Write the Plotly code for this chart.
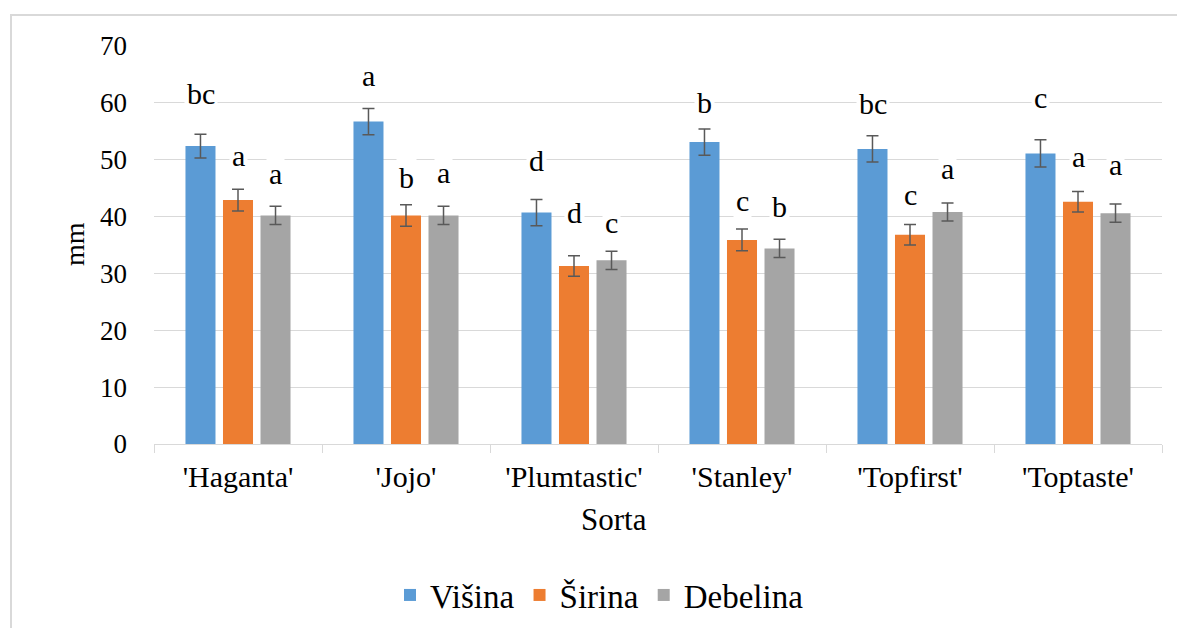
import plotly.graph_objects as go

categories = ["'Haganta'", "'Jojo'", "'Plumtastic'", "'Stanley'", "'Topfirst'", "'Toptaste'"]
series_names = ["Višina", "Širina", "Debelina"]
colors = ["#5b9bd5", "#ed7d31", "#a5a5a5"]

visina = [52.4, 56.7, 40.7, 53.1, 51.9, 51.1]
sirina = [42.9, 40.2, 31.3, 35.9, 36.8, 42.6]
debelina = [40.2, 40.2, 32.3, 34.4, 40.8, 40.6]

visina_err = [2.1, 2.3, 2.3, 2.3, 2.3, 2.4]
sirina_err = [1.9, 1.9, 1.8, 1.9, 1.8, 1.8]
debelina_err = [1.6, 1.6, 1.6, 1.6, 1.6, 1.6]

visina_letters = ["bc", "a", "d", "b", "bc", "c"]
sirina_letters = ["a", "b", "d", "c", "c", "a"]
debelina_letters = ["a", "a", "c", "b", "a", "a"]

visina_label_y = [61.7, 64.9, 49.9, 60.1, 59.8, 61.0]
sirina_label_y = [50.8, 46.8, 40.8, 42.9, 43.8, 50.5]
debelina_label_y = [47.5, 47.8, 39.0, 41.7, 48.4, 49.1]

values = [visina, sirina, debelina]
errs = [visina_err, sirina_err, debelina_err]
letters = [visina_letters, sirina_letters, debelina_letters]
label_ys = [visina_label_y, sirina_label_y, debelina_label_y]

FONT = "Liberation Serif, Times New Roman, serif"

# plot area in reference pixel coordinates
PL, PR, PT, PB = 154, 1162, 46, 444
PW, PH = PR - PL, PB - PT
OFF = 8  # page body margin


def px(x):
    return (x - PL) / PW


def py(y):
    return (PB - y) / PH


fig = go.Figure()
for name, vals, err, col in zip(series_names, values, errs, colors):
    fig.add_trace(go.Bar(
        x=categories, y=vals, name=name,
        marker=dict(color=col, line=dict(width=0)),
        error_y=dict(type="data", array=err, visible=True, color="#595959",
                     thickness=1.5, width=6),
    ))

offsets = [-37.5, 0, 37.5]
for s in range(3):
    for i, cat in enumerate(categories):
        fig.add_annotation(
            x=cat, y=label_ys[s][i], xref="x", yref="y",
            text=letters[s][i], showarrow=False, xshift=offsets[s],
            xanchor="center", yanchor="middle",
            font=dict(family=FONT, size=30, color="#000000"),
            bgcolor="#ffffff", borderpad=2,
        )

fig.add_annotation(x=px(614), y=py(519), xref="paper", yref="paper",
                   text="Sorta", showarrow=False, xanchor="center", yanchor="middle",
                   font=dict(family=FONT, size=31, color="#000000"))
fig.add_annotation(x=px(74), y=py(244), xref="paper", yref="paper",
                   text="mm", showarrow=False, textangle=-90,
                   xanchor="center", yanchor="middle",
                   font=dict(family=FONT, size=28, color="#000000"))

fig.add_shape(type="rect", xref="paper", yref="paper",
              x0=px(11), x1=px(1210), y0=py(660), y1=py(15),
              line=dict(color="#d9d9d9", width=2), fillcolor="rgba(0,0,0,0)", layer="below")

fig.update_layout(
    width=1185, height=628,
    margin=dict(l=PL - OFF, r=1185 - PR + OFF, t=PT - OFF, b=628 - PB + OFF, autoexpand=False),
    paper_bgcolor="white", plot_bgcolor="white",
    barmode="group", bargap=0.33, bargroupgap=0.2,
    font=dict(family=FONT, size=26, color="#000000"),
    showlegend=True,
    legend=dict(orientation="h", x=px(390), xanchor="left",
                y=py(595), yanchor="middle",
                font=dict(family=FONT, size=33, color="#000000"),
                itemsizing="constant", traceorder="normal"),
    xaxis=dict(showgrid=False, showline=True, linecolor="#d9d9d9", linewidth=1,
               ticks="outside", tickson="boundaries", ticklen=8, tickcolor="#d9d9d9",
               automargin=False, ticklabelstandoff=6,
               tickfont=dict(family=FONT, size=30, color="#000000")),
    yaxis=dict(range=[0, 70], dtick=10, showgrid=True, gridcolor="#d9d9d9", gridwidth=1,
               zeroline=False, showline=False, ticks="", automargin=False,
               tickfont=dict(family=FONT, size=27, color="#000000"), ticklabelstandoff=26),
)

fig.write_html("out.html")
